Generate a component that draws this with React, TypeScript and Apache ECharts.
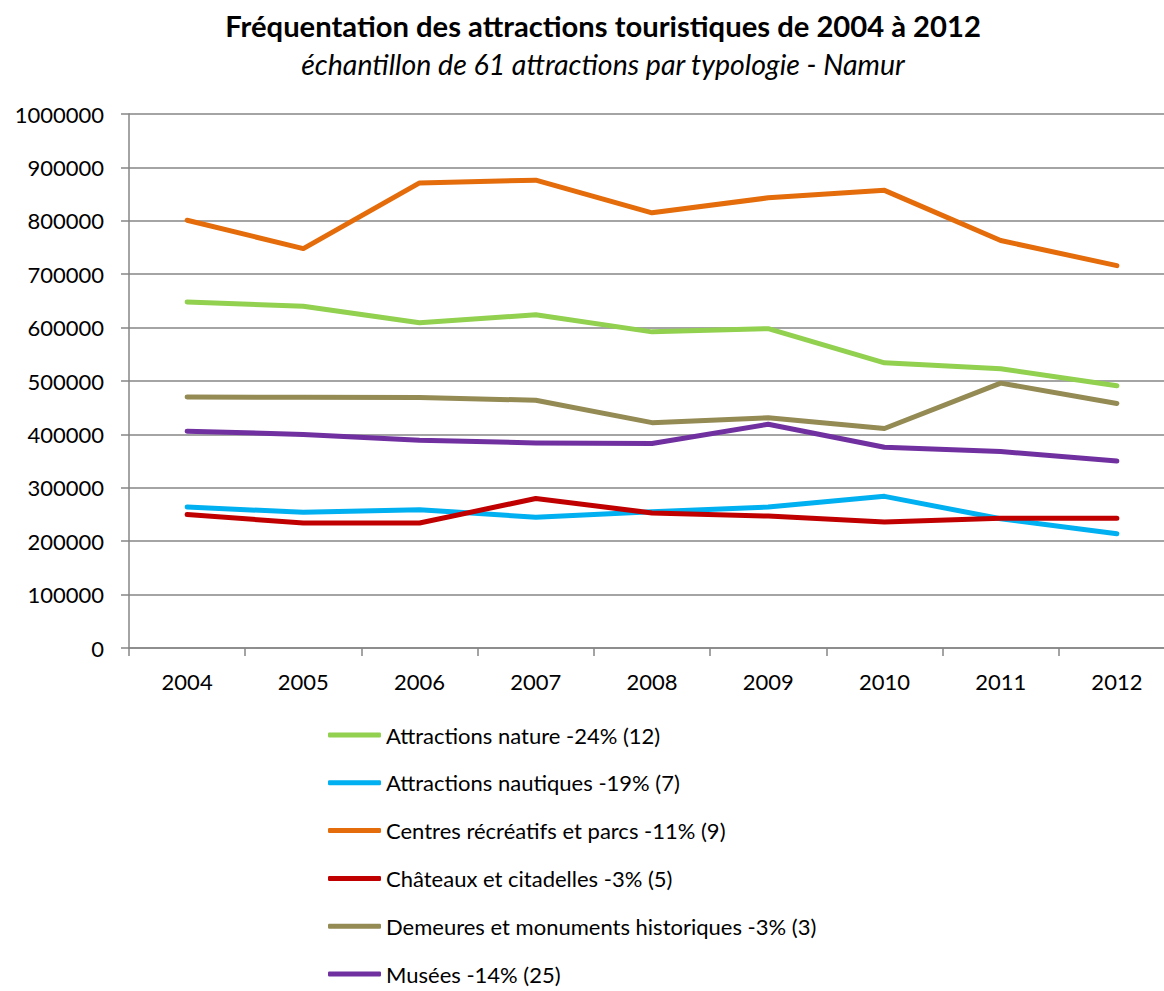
import React, { useEffect, useRef } from "react";
import * as echarts from "echarts";

const years = ["2004", "2005", "2006", "2007", "2008", "2009", "2010", "2011", "2012"];
const yTicks = [0, 100000, 200000, 300000, 400000, 500000, 600000, 700000, 800000, 900000, 1000000];

const nature = [648000, 640000, 609000, 624000, 592000, 598000, 534000, 523000, 491000];
const nautiques = [264000, 254000, 259000, 245000, 255000, 264000, 284000, 242000, 214000];
const centres = [801000, 748000, 871000, 876000, 815000, 843000, 857000, 763000, 716000];
const chateaux = [250000, 234000, 234000, 280000, 253000, 247000, 236000, 243000, 243000];
const demeures = [470000, 469500, 469000, 464000, 422000, 431000, 411000, 496000, 458000];
const musees = [406000, 400000, 389000, 384000, 383000, 419000, 376000, 368000, 350000];

const seriesNames = [
  "Attractions nature -24% (12)",
  "Attractions nautiques -19% (7)",
  "Centres récréatifs et parcs -11% (9)",
  "Châteaux et citadelles -3% (5)",
  "Demeures et monuments historiques -3% (3)",
  "Musées -14% (25)",
];
const seriesColors = ["#92D050", "#00B0F0", "#E46C0A", "#C00000", "#948A54", "#7030A0"];
const seriesData = [nature, nautiques, centres, chateaux, demeures, musees];

const FONT = "Lato, 'Open Sans', sans-serif";

export default function App() {
  const ref = useRef<HTMLDivElement>(null);
  useEffect(() => {
    if (!ref.current) return;
    const chart = echarts.init(ref.current, undefined, { renderer: "svg" });
    chart.setOption({
      animation: false,
      backgroundColor: "#ffffff",
      textStyle: { fontFamily: FONT },
      title: [
        {
          text: "Fréquentation des attractions touristiques de 2004 à 2012",
          left: 598,
          top: 6,
          textAlign: "center",
          textStyle: { fontFamily: FONT, fontSize: 29.2, fontWeight: "bold", color: "#000" },
        },
        {
          text: "échantillon de 61 attractions par typologie - Namur",
          left: 598,
          top: 44,
          textAlign: "center",
          textStyle: { fontFamily: FONT, fontSize: 28.5, fontStyle: "italic", fontWeight: "normal", color: "#000" },
        },
      ],
      grid: { left: 129, top: 114, width: 1046, height: 534, containLabel: false },
      xAxis: {
        type: "category",
        data: years,
        boundaryGap: true,
        axisLine: { show: true, lineStyle: { color: "#868686", width: 1.5 } },
        axisTick: { show: true, length: 8, lineStyle: { color: "#868686", width: 1.5 } },
        axisLabel: { color: "#000", fontSize: 22, fontFamily: FONT, margin: 22 },
        splitLine: { show: false },
      },
      yAxis: {
        type: "value",
        min: 0,
        max: 1000000,
        interval: 100000,
        axisLine: { show: true, lineStyle: { color: "#868686", width: 1.5 } },
        axisTick: { show: true, length: 8, lineStyle: { color: "#868686", width: 1.5 } },
        axisLabel: {
          color: "#000",
          fontSize: 22,
          fontFamily: FONT,
          margin: 25,
          formatter: (v: number) => (yTicks.includes(v) ? String(v) : ""),
        },
        splitLine: { show: true, lineStyle: { color: "#868686", width: 1.5 } },
      },
      legend: {
        orient: "vertical",
        left: 328,
        top: 724,
        height: 265,
        padding: 0,
        itemWidth: 53,
        itemHeight: 5,
        itemGap: 25.8,
        icon: "roundRect",
        data: seriesNames,
        textStyle: { color: "#000", fontSize: 22, fontFamily: FONT, lineHeight: 22 },
      },
      series: seriesData.map((d, i) => ({
        name: seriesNames[i],
        type: "line",
        data: d,
        symbol: "none",
        color: seriesColors[i],
        lineStyle: { color: seriesColors[i], width: 5, cap: "round", join: "round" },
        itemStyle: { color: seriesColors[i] },
      })),
    });
    return () => chart.dispose();
  }, []);
  return (
    <div style={{ position: "fixed", left: 0, top: 0, width: 1164, height: 991, overflow: "hidden", background: "#fff" }}>
      <div ref={ref} style={{ position: "absolute", left: 0, top: 0, width: 1190, height: 991 }} />
    </div>
  );
}
